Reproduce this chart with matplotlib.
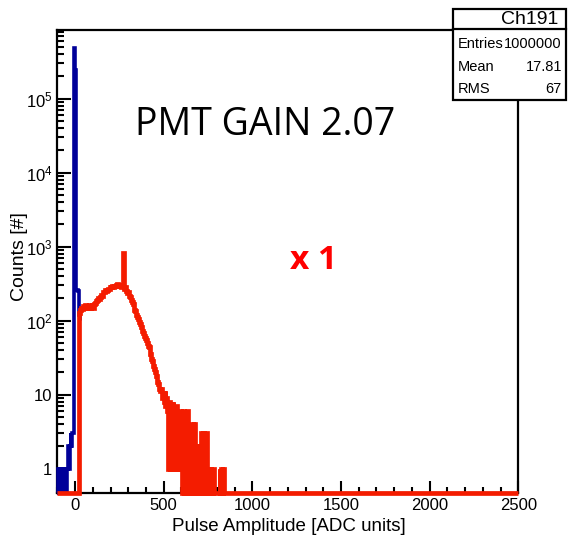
import numpy as np
import matplotlib
matplotlib.use('Agg')
import matplotlib.pyplot as plt
from matplotlib.patches import Rectangle
from matplotlib.lines import Line2D
from matplotlib.ticker import FixedLocator, FixedFormatter, LogLocator, MultipleLocator, NullFormatter

plt.rcParams['font.family'] = ['Liberation Sans', 'DejaVu Sans']
plt.rcParams['mathtext.fontset'] = 'custom'
plt.rcParams['mathtext.rm'] = 'Liberation Sans'
plt.rcParams['mathtext.default'] = 'regular'

# --- data (counts per 5 ADC bin) ---
bin_w = 5
x_min, x_max = -100, 2500
y_min, y_max = 0.467, 8.55e5

# pedestal, drawn in blue, bins start at -100
blue_start = -100
blue_counts = [0, 1, 0, 1, 0, 1, 0, 1, 0, 1,
               0, 1, 2, 1, 2, 3, 2, 3, 3, 480000,
               240000, 260, 255, 250, 150, 120, 100]

# signal part, drawn in red, bins start at 20
red_start = 20
red_counts = [125, 125, 140, 150, 145, 155, 150, 160, 150, 145,
              155, 150, 160, 150, 155, 160, 150, 165, 175, 170,
              185, 190, 200, 195, 210, 220, 215, 235, 245, 240,
              255, 250, 260, 270, 265, 280, 275, 285, 290, 280,
              295, 290, 300, 310, 295, 305, 290, 300, 285, 290,
              820, 270, 280, 260, 250, 235, 240, 215, 205, 190,
              180, 165, 155, 140, 135, 120, 110, 105, 95, 90,
              82, 80, 72, 68, 62, 58, 55, 50, 45, 44,
              38, 35, 30, 28, 24, 22, 20, 18, 17, 15,
              14, 12, 11, 12, 9, 10, 8, 11, 7, 9,
              6, 1, 8, 1, 7, 2, 8, 1, 6, 1,
              7, 1, 5, 1, 6, 1, 4, 0, 6, 0,
              5, 1, 6, 0, 3, 0, 3, 1, 4, 0,
              4, 0, 2, 0, 2, 1, 2, 0, 3, 0,
              3, 0, 2, 0, 3, 0, 1, 0, 1, 0,
              1, 0, 1, 0, 0, 0, 0, 0, 0, 1,
              0, 1, 0, 1, 0]

y_tick_vals = [1, 10, 1e2, 1e3, 1e4, 1e5]
y_tick_labels = ['1', '10', '$10^{2}$', '$10^{3}$', '$10^{4}$', '$10^{5}$']

stats_title = 'Ch191'
stats_rows = [('Entries', '1000000'), ('Mean', '17.81'), ('RMS', '67')]

blue_col = '#000099'
red_col = '#f41c00'

# --- build histograms ---
blue_edges = blue_start + bin_w * np.arange(len(blue_counts) + 1)
blue_vals = np.array(blue_counts, dtype=float)
blue_vals[blue_vals <= 0] = y_min

red_inner = red_start + bin_w * np.arange(len(red_counts) + 1)
red_edges = np.concatenate([[x_min], red_inner, [x_max]])
red_vals = np.array([0] + red_counts + [0], dtype=float)
red_vals[red_vals <= 0] = y_min

fig = plt.figure(figsize=(5.68, 5.40), dpi=100)
ax = fig.add_axes([0.1009, 0.0870, 0.8116, 0.8583])

ax.stairs(blue_vals, blue_edges, baseline=None, color=blue_col, lw=2.6,
          clip_on=False, zorder=2.9)
ax.stairs(red_vals, red_edges, baseline=None, color=red_col, lw=3.4,
          clip_on=False, zorder=3)

ax.set_yscale('log')
ax.set_xlim(x_min, x_max)
ax.set_ylim(y_min, y_max)

ax.xaxis.set_major_locator(MultipleLocator(500))
ax.xaxis.set_minor_locator(MultipleLocator(100))
ax.yaxis.set_major_locator(FixedLocator(y_tick_vals))
ax.yaxis.set_major_formatter(FixedFormatter(y_tick_labels))
ax.yaxis.set_minor_locator(LogLocator(base=10, subs=np.arange(2, 10), numticks=20))
ax.yaxis.set_minor_formatter(NullFormatter())

ax.tick_params(which='both', direction='in', top=False, right=False,
               width=1.5, labelsize=12, pad=3.6, color='black')
ax.tick_params(axis='x', which='major', length=8.6)
ax.tick_params(axis='x', which='minor', length=4.3)
ax.tick_params(axis='y', which='major', length=10)
ax.tick_params(axis='y', which='minor', length=5)

for sp in ax.spines.values():
    sp.set_linewidth(1.6)

ax.set_xlabel('Pulse Amplitude [ADC units]', fontsize=13.5)
ax.xaxis.set_label_coords(0.5026, -0.054)
ax.xaxis.label.set_va('top')
ax.set_ylabel('Counts [#]', fontsize=14)
ax.yaxis.set_label_coords(-0.0625, 0.51)

# annotations
fig.text(0.2377, 0.75, 'PMT GAIN 2.07', fontsize=27, family='Open Sans',
         color='black', va='baseline', ha='left')
fig.text(0.5106, 0.5019, 'x 1', fontsize=24, family='Open Sans',
         fontweight='bold', color='#ff0000', va='baseline', ha='left')

# stats box
bx0, bx1 = 0.7975, 0.9965
by0, by1 = 0.8148, 0.9833
fig.add_artist(Rectangle((bx0, by0), bx1 - bx0, by1 - by0, transform=fig.transFigure,
                         facecolor='white', edgecolor='black', lw=1.6, zorder=10))
fig.add_artist(Line2D([bx0, bx1], [0.9454, 0.9454], transform=fig.transFigure,
                      color='black', lw=1.6, zorder=11))
fig.text(0.9824, 0.9648, stats_title, fontsize=14, ha='right', va='center', zorder=12)
row_y = [0.9185, 0.876, 0.8352]
for (name, val), yy in zip(stats_rows, row_y):
    fig.text(0.8063, yy, name, fontsize=10.5, ha='left', va='center', zorder=12)
    fig.text(0.9894, yy, val, fontsize=10.5, ha='right', va='center', zorder=12)

fig.savefig('out.png', dpi=100)
